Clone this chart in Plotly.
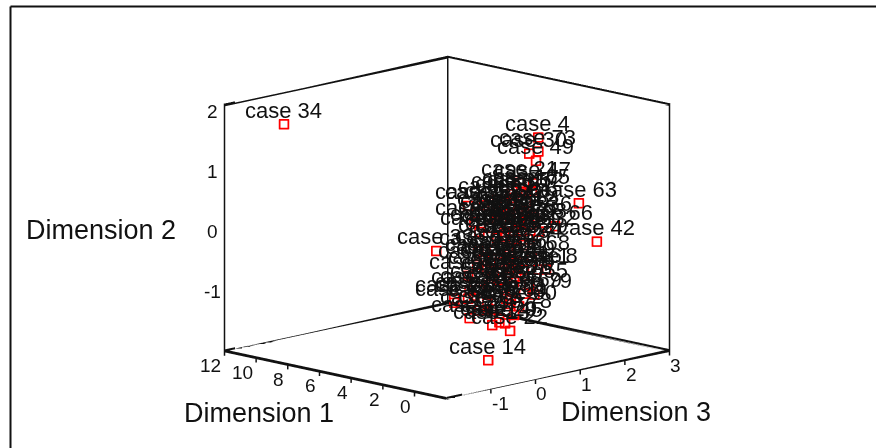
import plotly.graph_objects as go

case_ids = [4, 73, 30, 49, 47, 21, 65, 17, 35, 63, 42, 66, 52, 2, 33, 71, 28, 7, 12, 19,
            24, 56, 31, 9, 15, 40, 53, 75, 6, 18, 25, 37, 44, 61, 70, 3, 10, 26, 8, 1,
            68, 59, 60, 77, 5, 11, 39, 13, 20, 45, 22, 14, 16, 23, 27, 29, 32, 36, 38, 41,
            43, 46, 48, 50, 51, 54, 55, 57, 58, 62, 64, 67, 69, 72, 74, 76, 78, 79, 34,
            80, 81, 82, 83, 84, 85, 86, 87, 88, 89, 90, 91, 92, 93]

dimension_1 = [1, 1.5, 0.5, 1, 1.5, 1, 0.5, 1, 1.5, 1, 1.5, 0.5, 1, 1, 0.5, 1.5, 1, 0.5, 1.5, 1,
               0.5, 1, 1.5, 1, 0.5, 1, 1.5, 1, 0.5, 1, 1.5, 1, 1, 0.5, 1.5, 1, 0.5, 1, 1.5, 1,
               0.5, 1, 1.5, 1, 0.5, 1, 1.5, 1, 1, 0.5, 1, 1, 1.5, 0.5, 1, 1.5, 1, 0.5, 1, 1.5,
               0.5, 1, 1, 1.5, 0.5, 1, 1.5, 1, 0.5, 1, 1.5, 0.5, 1, 1, 1.5, 0.5, 1, 1.5, 10,
               1, 1, 1, 1, 1, 1, 1, 1, 1, 1, 1, 1, 1, 1]

dimension_3 = [1.12, 1.30, 0.74, 1.07, 1.18, 0.71, 0.80, 0.74, 0.67, 2.03, 2.61, 1.32, 0.85, -0.45, -1.34, -0.58, -0.76, -0.63, 0.84, 0.22,
               0.18, 0.58, 0.92, 0.49, 0.00, 0.20, 0.67, 0.69, 0.67, -0.22, 0.09, -0.09, 0.40, 0.33, -0.27, 0.13, 0.45, 0.58, 1.47, 1.12,
               0.80, 0.80, 0.87, -0.02, -0.11, 0.51, 0.58, 0.09, 0.25, 0.20, 0.49, 0.00, -0.02, 0.18, 0.65, 1.10, 1.14, 0.85, -0.31, -0.07,
               0.07, 0.80, 0.02, 0.54, -0.49, -0.42, 1.10, 0.20, -0.27, 0.58, 0.31, 0.29, 0.47, -0.20, -0.24, 0.07, 0.58, 1.21, -1.38,
               0.25, 0.80, 0.47, 0.02, 0.80, 0.20, 0.47, -0.02, 0.25, 0.65, 0.36, 0.58, -0.20, 0.92]

dimension_2 = [1.69, 1.40, 1.51, 1.31, 0.89, 1.00, 0.89, 0.85, 0.79, 0.45, -0.31, 0.21, 0.80, 0.80, 0.22, -0.82, -0.69, -0.69, 0.45, 0.31,
               0.29, 0.21, 0.13, 0.59, 0.65, 0.46, 0.40, 0.36, 0.71, 0.01, -0.22, -0.11, -0.24, -0.32, -0.42, -0.46, -0.49, -0.63, -0.59, -0.51,
               -0.22, -0.86, -1.11, -0.89, -0.95, -0.92, -0.94, -1.27, -1.25, -1.23, -1.43, -1.84, 0.27, 0.22, -0.07, -0.03, 0.12, 0.43, 0.51, -0.27,
               -0.20, -0.46, -0.59, -0.75, -0.66, -0.61, -0.78, 0.80, 0.81, 0.07, -0.08, -0.40, -0.98, -0.98, -1.13, -1.13, -1.18, -0.97, 1.80,
               0.54, 0.50, 0.29, 0.36, -0.05, 0.16, -0.16, -0.34, -0.55, -0.31, 0.69, 0.77, -0.64, 0.27]

dim1_ticks = [0, 2, 4, 6, 8, 10, 12]
dim2_ticks = [-1, 0, 1, 2]
dim3_ticks = [-1, 0, 1, 2, 3]
dim1_range = [-2, 12]
dim2_range = [-2, 2.13]
dim3_range = [-2, 3]

INK = "#111111"
RED = "#ff0000"
FONT = "Liberation Sans"
TICK_DROP = 0.07
EDGE_T = 0.035

fig = go.Figure()

x0, x1 = dim3_range
y0, y1 = dim1_range
z0, z1 = dim2_range

# sloped box edges: thin ribbons, backed by a line trace (gl lines alone break up on slopes)
sloped = [
    ((x0, y0, z0), (x1, y0, z0)),
    ((x0, y0, z0), (x0, y1, z0)),
    ((x0, y1, z0), (x1, y1, z0)),
    ((x1, y0, z0), (x1, y1, z0)),
    ((x0, y1, z1 - EDGE_T), (x1, y1, z1 - EDGE_T)),
    ((x1, y0, z1 - EDGE_T), (x1, y1, z1 - EDGE_T)),
]
mx, my, mz, mi, mj, mk = [], [], [], [], [], []
for a, b in sloped:
    n = len(mx)
    for p, t in ((a, 0), (b, 0), (b, EDGE_T), (a, EDGE_T)):
        mx.append(p[0]); my.append(p[1]); mz.append(p[2] + t)
    mi += [n, n]; mj += [n + 1, n + 2]; mk += [n + 2, n + 3]
fig.add_trace(go.Mesh3d(
    x=mx, y=my, z=mz, i=mi, j=mj, k=mk, color=INK, flatshading=True,
    lighting=dict(ambient=1, diffuse=0, specular=0, fresnel=0, roughness=1),
    hoverinfo="skip", showscale=False,
))

vx, vy, vz = [], [], []
for a, b in sloped:
    vx += [a[0], b[0], None]; vy += [a[1], b[1], None]; vz += [a[2], b[2], None]
for cx, cy in ((x0, y1), (x1, y1), (x1, y0)):
    vx += [cx, cx, None]; vy += [cy, cy, None]; vz += [z0, z1, None]
for t in dim1_ticks:
    vx += [x0, x0, None]; vy += [t, t, None]; vz += [z0 - TICK_DROP, z0, None]
for t in dim3_ticks:
    vx += [t, t, None]; vy += [y0, y0, None]; vz += [z0 - TICK_DROP, z0, None]
fig.add_trace(go.Scatter3d(
    x=vx, y=vy, z=vz, mode="lines", line=dict(color=INK, width=3),
    hoverinfo="skip", showlegend=False,
))

# two nested outlines give the square marker its heavier stroke
for marker_size, info in ((3.6, "skip"), (4.2, "text")):
    fig.add_trace(go.Scatter3d(
        x=dimension_3, y=dimension_1, z=dimension_2,
        mode="markers",
        marker=dict(symbol="square-open", size=marker_size, color=RED, line=dict(color=RED, width=2)),
        showlegend=False,
        text=[f"case {c}" for c in case_ids], hoverinfo=info,
    ))

def label(x, y, z, text, size, xanchor="center", xshift=0, yshift=0):
    return dict(x=x, y=y, z=z, text=text, showarrow=False, xanchor=xanchor, yanchor="middle",
                xshift=xshift, yshift=yshift, font=dict(family=FONT, size=size, color=INK))

scene_labels = []
for d3, d1, d2, c in zip(dimension_3, dimension_1, dimension_2, case_ids):
    scene_labels.append(label(d3, d1, d2, f"case {c}", 22, yshift=14))
for t in dim1_ticks:
    scene_labels.append(label(x0, t, z0, str(t), 19, xanchor="right", xshift=-1, yshift=-14))
for t in dim3_ticks:
    scene_labels.append(label(t, y0, z0, str(t), 19, xanchor="left", xshift=-1, yshift=-14))
for t in dim2_ticks:
    scene_labels.append(label(x0, y1, t, str(t), 19, xshift=-12))

def axis(rng):
    return dict(
        range=rng, title=dict(text=""), showgrid=False, zeroline=False,
        showbackground=False, showline=False, ticks="", showticklabels=False, showspikes=False,
    )

def title(text, x, y):
    return dict(text=text, x=x/876, y=1-y/448, xref="paper", yref="paper", showarrow=False,
                xanchor="center", yanchor="middle",
                font=dict(size=27, family=FONT, color=INK))

fig.update_layout(
    width=876, height=448,
    margin=dict(l=0, r=0, t=0, b=0),
    paper_bgcolor="white",
    font=dict(family=FONT, color=INK),
    scene=dict(
        domain=dict(x=[0.02, 1], y=[0, 1]),
        xaxis=axis(dim3_range),
        yaxis=axis(dim1_range),
        zaxis=axis([z0 - TICK_DROP, z1]),
        aspectmode="manual",
        aspectratio=dict(x=1.41, y=1.40, z=1.153),
        camera=dict(
            projection=dict(type="orthographic"),
            eye=dict(x=-1.0, y=-1.0, z=0.335),
            center=dict(x=0, y=0, z=0.025),
            up=dict(x=0, y=0, z=1),
        ),
        annotations=scene_labels,
    ),
    shapes=[
        dict(type="line", xref="paper", yref="paper", x0=10.5/876, x1=1, y0=1-6.5/448, y1=1-6.5/448,
             line=dict(color=INK, width=2)),
        dict(type="line", xref="paper", yref="paper", x0=10.5/876, x1=10.5/876, y0=0, y1=1-6.5/448,
             line=dict(color=INK, width=2)),
    ],
    annotations=[
        title("Dimension 1", 259, 413),
        title("Dimension 2", 101, 230),
        title("Dimension 3", 636, 412),
    ],
)

fig.write_html("out.html", config={"displayModeBar": False},
               post_script="document.body.style.margin='0';")
